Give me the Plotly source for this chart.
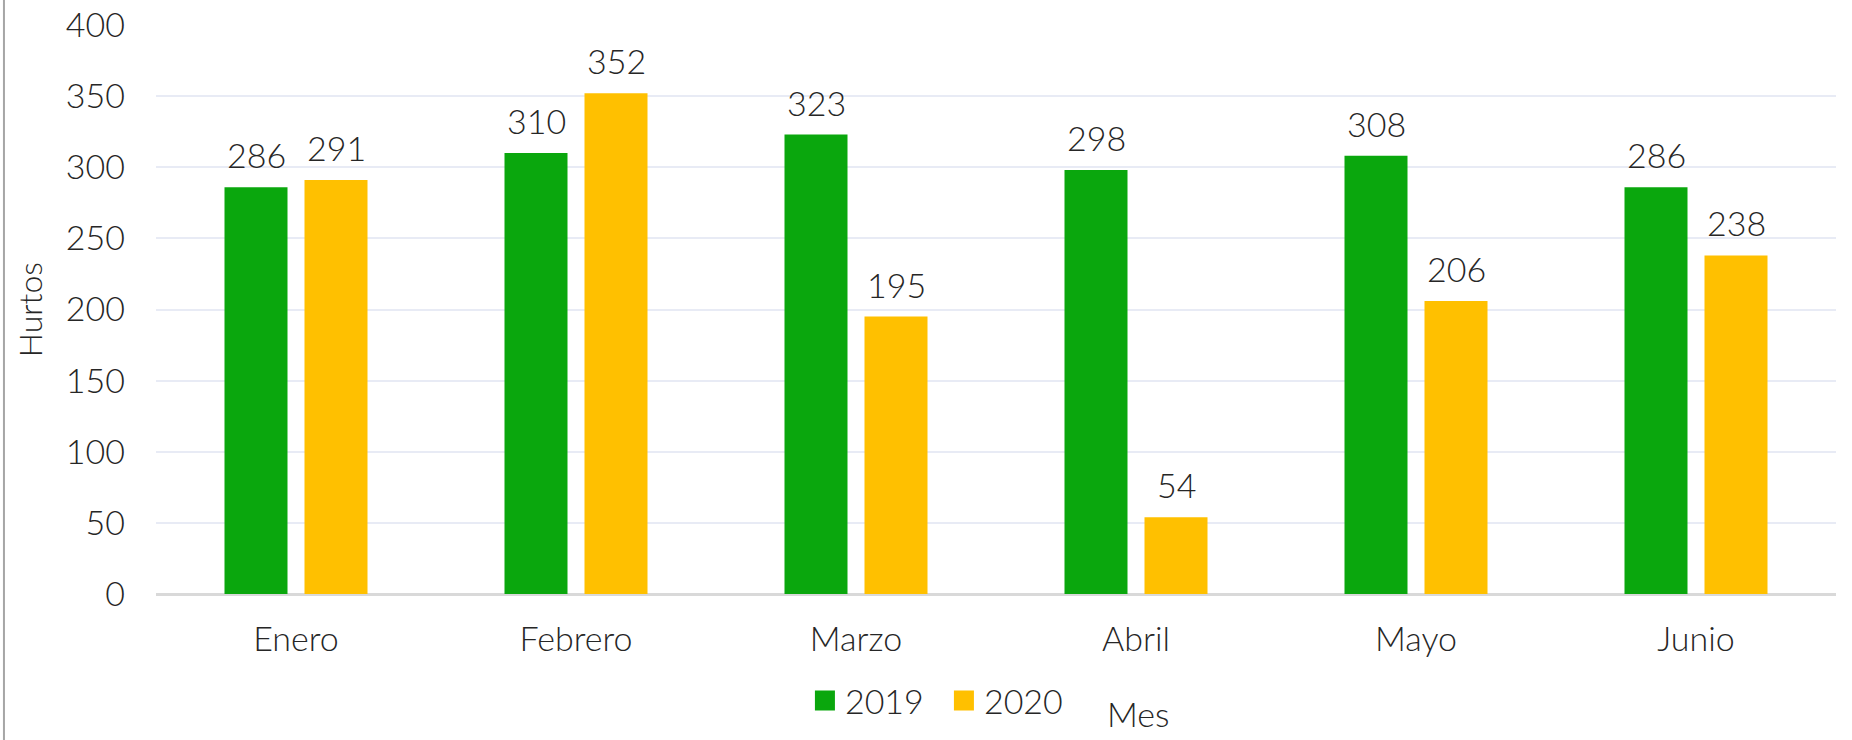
import plotly.graph_objects as go

months = ["Enero", "Febrero", "Marzo", "Abril", "Mayo", "Junio"]
hurtos_2019 = [286, 310, 323, 298, 308, 286]
hurtos_2020 = [291, 352, 195, 54, 206, 238]
series_names = ["2019", "2020"]
colors = ["#0AA70D", "#FFC000"]
y_ticks = [0, 50, 100, 150, 200, 250, 300, 350, 400]

FONT = "Lato"
TXT = "#262626"
BARGAP = 0.4286
GROUPGAP = 0.2125

fig = go.Figure()
for name, vals, col in zip(series_names, [hurtos_2019, hurtos_2020], colors):
    fig.add_trace(go.Bar(x=months, y=vals, name=name, showlegend=False,
                         marker=dict(color=col, line=dict(width=0))))
# legend entries with larger square swatches
for name, col in zip(series_names, colors):
    fig.add_trace(go.Scatter(x=[None], y=[None], mode="markers", name=name,
                             marker=dict(symbol="square", size=16, color=col,
                                         line=dict(color=col, width=4))))

# data labels above bars
slot = (1 - BARGAP) / 2
for k, vals in enumerate([hurtos_2019, hurtos_2020]):
    off = (k - 0.5) * slot
    for i, v in enumerate(vals):
        fig.add_annotation(x=i + off, y=v, xref="x", yref="y", text=str(v), showarrow=False,
                           xanchor="center", yanchor="bottom", yshift=10,
                           font=dict(family=FONT, size=34, color=TXT, weight=300))

fig.add_annotation(text="Hurtos", xref="paper", yref="paper", x=-0.0755, y=0.499, textangle=-90,
                   xanchor="center", yanchor="middle",
                   showarrow=False, font=dict(family=FONT, size=32, color=TXT, weight=300))
fig.add_annotation(text="Mes", xref="paper", yref="paper", x=0.585, y=-0.21, showarrow=False,
                   xanchor="center", yanchor="middle",
                   font=dict(family=FONT, size=34, color=TXT, weight=300))

fig.add_shape(type="line", xref="paper", yref="paper", x0=-0.0905, x1=-0.0905, y0=-0.3, y1=1.1,
              line=dict(color="#A6A6A6", width=2))

fig.update_layout(
    width=1852, height=740,
    margin=dict(l=156, r=16, t=25, b=146, autoexpand=False),
    paper_bgcolor="white", plot_bgcolor="white",
    barmode="group", bargap=BARGAP, bargroupgap=GROUPGAP,
    font=dict(family=FONT, size=34, color=TXT, weight=300),
    showlegend=True,
    legend=dict(orientation="h", x=0.469, xanchor="center", y=-0.188, yanchor="middle",
                font=dict(family=FONT, size=34, color=TXT, weight=300),
                entrywidth=94, entrywidthmode="pixels", itemsizing="trace",
                bgcolor="rgba(0,0,0,0)"),
    xaxis=dict(showgrid=False, showline=False, zeroline=False, ticks="", ticklabelstandoff=22,
               automargin=False,
               tickfont=dict(family=FONT, size=34, color=TXT, weight=300)),
    yaxis=dict(range=[0, 400], autorange=False, tickvals=y_ticks, showgrid=True,
               automargin=False,
               gridcolor="#E8EBF5", gridwidth=1.5, zeroline=True, zerolinecolor="#D9D9D9",
               zerolinewidth=2.5, showline=False, ticks="", ticklabelstandoff=30,
               tickfont=dict(family=FONT, size=34, color=TXT, weight=300)),
)

fig.write_html("out.html", config={"displayModeBar": False},
               post_script="document.body.style.margin='0';document.body.style.overflow='hidden';")
